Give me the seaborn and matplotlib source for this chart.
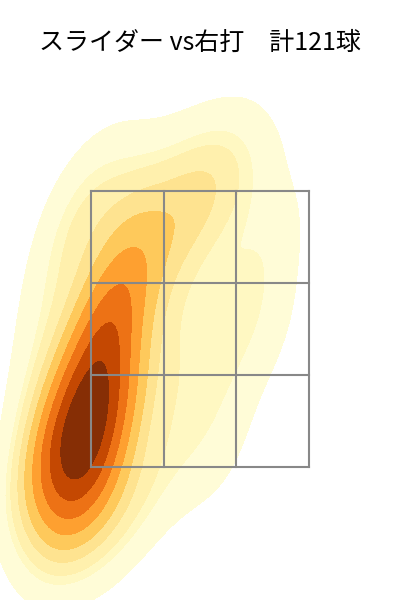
import numpy as np
import pandas as pd
import matplotlib
matplotlib.use("Agg")
import matplotlib.pyplot as plt
import seaborn as sns

# pitch locations (ft), catcher view
px = [-0.99, -0.84, -1.10, -0.74, -0.95, -1.14, -0.70, -0.89, -1.04, -0.77,
      -0.72, -0.96, -0.72, -0.88, -0.70, -0.80, -1.07, -0.92, -0.77, -1.18,
      -1.00, -0.72,
      -0.72, -0.80, -0.66, -0.76, -0.64, -0.72, -0.60, -0.66,
      -1.02, -0.92, -0.70, -1.15,
      -1.18, -1.20, -1.02,
      -0.85, -0.70, -0.98,
      -0.25, -0.35, -0.20, -0.30, -0.10, -0.50, 0.00,
      0.05, 0.40, 0.55, 0.30, 0.50, 0.15, 0.10,
      -0.20, 0.20, -0.50, 0.00, -0.40, -0.55]
pz = [1.44, 1.48, 1.57, 1.57, 1.63, 1.70, 1.71, 1.76, 1.82, 1.87,
      1.91, 1.97, 2.04, 2.08, 2.18, 2.25, 1.34, 1.29, 1.36, 1.44,
      2.16, 1.95,
      2.35, 2.45, 2.52, 2.60, 2.68, 2.78, 2.88, 3.00,
      3.20, 3.50, 3.65, 2.70,
      1.60, 2.15, 1.22,
      1.10, 1.05, 1.12,
      1.50, 2.10, 2.60, 3.20, 3.50, 1.20, 2.00,
      3.70, 3.65, 3.20, 2.80, 2.50, 1.60, 2.40,
      3.70, 3.75, 3.50, 3.30, 2.90, 3.30]

# strike zone edges
zone_x = [-0.83, -0.277, 0.277, 0.83]
zone_z = [1.5, 2.2, 2.9, 3.6]

title = "スライダー vs右打\u3000計121球"

df = pd.DataFrame({"x": px, "z": pz})

fig = plt.figure(figsize=(4, 6), dpi=100)
ax = fig.add_axes([0, 0, 1, 0.8667])

sns.kdeplot(data=df, x="x", y="z", fill=True, cmap="YlOrBr",
            levels=10, thresh=0.05, bw_adjust=1.0, ax=ax)

for xv in zone_x:
    ax.plot([xv, xv], [zone_z[0], zone_z[-1]], color="#888888", lw=1.5)
for zv in zone_z:
    ax.plot([zone_x[0], zone_x[-1]], [zv, zv], color="#888888", lw=1.5)

ax.set_xlim(-1.523, 1.523)
ax.set_ylim(0.487, 4.447)
ax.axis("off")

fig.text(0.5, 0.928, title, ha="center", va="center", fontsize=18,
         family=["Noto Sans CJK JP", "DejaVu Sans"])

fig.savefig("out.png", dpi=100)
